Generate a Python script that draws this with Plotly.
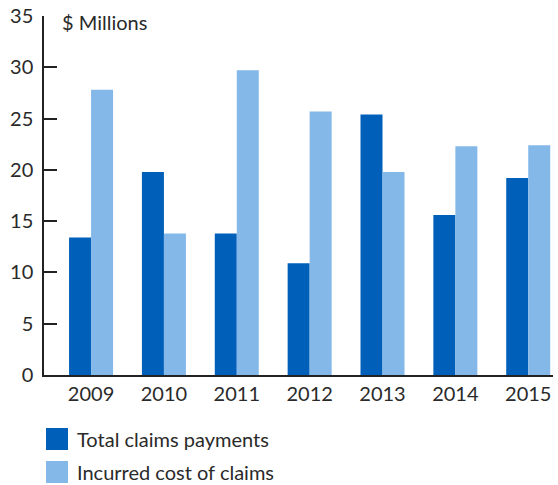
import plotly.graph_objects as go

years = ["2009", "2010", "2011", "2012", "2013", "2014", "2015"]
total_payments = [13.4, 19.8, 13.8, 10.9, 25.4, 15.6, 19.2]
incurred_cost = [27.8, 13.8, 29.7, 25.7, 19.8, 22.3, 22.4]
series_names = ["Total claims payments", "Incurred cost of claims"]
series_colors = ["#0060B9", "#83B8E9"]
y_ticks = [0, 5, 10, 15, 20, 25, 30, 35]

W, H = 558, 485
L, R, T, B = 44, 5, 16, 110
pw = W - L - R
ph = H - T - B

def px_x(p):
    return (p - L) / pw

def px_y(p):
    return (H - B - p) / ph

FONT = "Lato"
TXT = "#2a2a2a"
FS = 20

fig = go.Figure()
for name, vals, col in zip(series_names, [total_payments, incurred_cost], series_colors):
    fig.add_trace(go.Bar(x=years, y=vals, name=name, marker=dict(color=col, line=dict(width=0)),
                         showlegend=False))

shapes = []
annotations = []
rows = [(428, 450), (461, 483)]
for (top, bot), name, col in zip(rows, series_names, series_colors):
    shapes.append(dict(type="rect", xref="paper", yref="paper",
                       x0=px_x(46), x1=px_x(68), y0=px_y(bot), y1=px_y(top),
                       fillcolor=col, line=dict(width=0)))
    annotations.append(dict(text=name, xref="paper", yref="paper", x=px_x(75), y=px_y((top + bot) / 2),
                            xanchor="left", yanchor="middle", showarrow=False,
                            font=dict(family=FONT, size=FS, color=TXT)))

annotations.append(dict(text="$ Millions", xref="paper", yref="paper", x=px_x(60), y=px_y(22),
                        xanchor="left", yanchor="middle", showarrow=False,
                        font=dict(family=FONT, size=FS, color=TXT)))

fig.update_layout(
    width=W, height=H,
    margin=dict(l=L, r=R, t=T, b=B, autoexpand=False),
    paper_bgcolor="white", plot_bgcolor="white",
    barmode="group", bargap=0.396, bargroupgap=0,
    font=dict(family=FONT, size=FS, color=TXT),
    shapes=shapes, annotations=annotations,
    xaxis=dict(type="category", range=[-0.646, 6.34], showline=True, linecolor="#222222", linewidth=1.5,
               ticks="", showgrid=False, tickfont=dict(family=FONT, size=FS, color=TXT), automargin=False),
    yaxis=dict(range=[0, 35], tickvals=y_ticks, showline=True, linecolor="#222222", linewidth=1.5,
               ticks="inside", ticklen=13, tickwidth=1.5, tickcolor="#222222",
               showgrid=False, zeroline=False, tickfont=dict(family=FONT, size=FS, color=TXT),
               ticklabelstandoff=5, automargin=False),
)

fig.write_html("out.html", config={"displayModeBar": False})
with open("out.html", encoding="utf-8") as f:
    html = f.read()
html = html.replace("<head>", "<head><style>html,body{margin:0;padding:0;overflow:hidden}</style>", 1)
with open("out.html", "w", encoding="utf-8") as f:
    f.write(html)
